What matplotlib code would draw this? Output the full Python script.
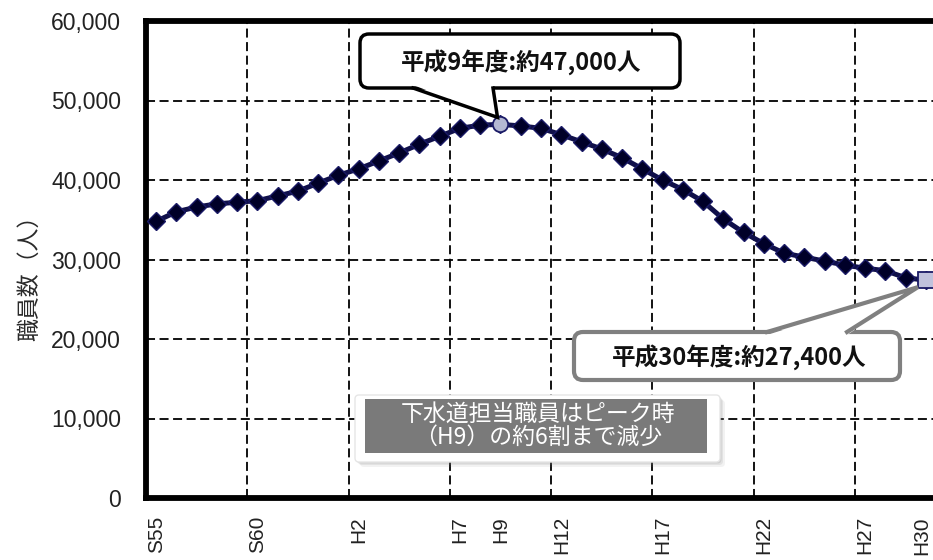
import matplotlib
matplotlib.use('Agg')
import matplotlib.pyplot as plt
import matplotlib.transforms as mtransforms
from matplotlib.patches import FancyBboxPatch, Polygon, Rectangle
from matplotlib.ticker import FuncFormatter, FixedLocator

# ---- data ----
categories = ['S55', 'S56', 'S57', 'S58', 'S59', 'S60', 'S61', 'S62', 'S63'] + \
             ['H%d' % i for i in range(1, 31)]
staff = [34800, 36000, 36600, 37000, 37200, 37400, 38000, 38600, 39600, 40600,
         41400, 42400, 43400, 44500, 45500, 46500, 46900, 47000, 46800, 46500,
         45700, 44800, 43900, 42800, 41400, 40000, 38800, 37300, 35100, 33400,
         32000, 30800, 30300, 29800, 29300, 28900, 28600, 27700, 27400]
shown_labels = ['S55', 'S60', 'H2', 'H7', 'H9', 'H12', 'H17', 'H22', 'H27', 'H30']
grid_before = ['S60', 'H2', 'H7', 'H12', 'H17', 'H22', 'H27']
y_ticks = [0, 10000, 20000, 30000, 40000, 50000, 60000]
peak_cat = 'H9'
end_cat = 'H30'
peak_label = '平成9年度:約47,000人'
end_label = '平成30年度:約27,400人'
note_text = '下水道担当職員はピーク時\n（H9）の約6割まで減少'
y_label = '職員数（人）'

W, H = 933, 560
fig = plt.figure(figsize=(W / 100, H / 100), dpi=100)
ax = fig.add_axes([146 / W, 1 - 498 / H, 790 / W, (498 - 21) / H])

x = list(range(len(categories)))
ax.plot(x, staff, color='#10104a', lw=3.6, marker='D', markersize=9.5,
        markerfacecolor='#000028', markeredgecolor='#1a1a66', zorder=3)
ip = categories.index(peak_cat)
ie = categories.index(end_cat)
ax.plot([ip], [staff[ip]], marker='o', markersize=11, markerfacecolor='#b4b8d2',
        markeredgecolor='#1a1a66', markeredgewidth=1.3, linestyle='none', zorder=4)
ax.plot([ie], [staff[ie]], marker='s', markersize=12, markerfacecolor='#c0c2dc',
        markeredgecolor='#1a1a66', markeredgewidth=1.3, linestyle='none', zorder=4,
        clip_on=False)

ax.set_xlim(-0.5, len(categories) - 0.5)
ax.set_ylim(0, 60000)

ax.xaxis.set_major_locator(FixedLocator([categories.index(c) for c in shown_labels]))
ax.set_xticklabels(shown_labels, rotation=90, fontsize=15, family=['Liberation Sans'],
                   color='#222222')
ax.xaxis.set_minor_locator(FixedLocator([categories.index(c) - 0.5 for c in grid_before]))
ax.tick_params(axis='x', which='both', length=0, pad=13)
# keep the last (edge) label inside the picture
last = ax.get_xticklabels()[-1]
last.set_transform(last.get_transform() +
                   mtransforms.ScaledTranslation(-4 / 100, 0, fig.dpi_scale_trans))
ax.set_yticks(y_ticks)
ax.yaxis.set_major_formatter(FuncFormatter(lambda v, p: '{:,.0f}'.format(v)))
ax.tick_params(axis='y', length=0, pad=18, labelsize=16.5, labelcolor='#222222')
for lab in ax.get_yticklabels():
    lab.set_family('Liberation Sans')

gkw = dict(color='black', lw=1.3, linestyle=(0, (5, 2.5)))
ax.grid(True, axis='y', which='major', **gkw)
ax.grid(True, axis='x', which='minor', **gkw)
ax.grid(False, axis='x', which='major')
ax.set_axisbelow(True)

for s in ['left', 'bottom', 'top', 'right']:
    ax.spines[s].set_linewidth(4.2)
    ax.spines[s].set_color('black')

fig.text(30 / W, 1 - 272 / H, y_label, rotation=90, ha='center', va='center',
         fontsize=16.5, family=['Noto Sans CJK JP'], color='#2a2a2a')

# ---- overlay in pixel coordinates ----
ov = fig.add_axes([0, 0, 1, 1], zorder=10)
ov.set_xlim(0, W)
ov.set_ylim(H, 0)
ov.axis('off')
ov.patch.set_alpha(0)


def to_px(xv, yv):
    dx, dy = ax.transData.transform((xv, yv))
    return dx, H - dy


# callout 1 (peak)
cx, cy = to_px(ip, staff[ip])
tip1 = (cx - 3, cy - 7)
ov.add_patch(FancyBboxPatch((360, 34), 320, 54, boxstyle='round,pad=0,rounding_size=9',
                            fc='white', ec='black', lw=2.5, zorder=5))
ov.add_patch(Polygon([(413, 85), tip1, (493, 85)], closed=True, fc='white', ec='none', zorder=6))
ov.plot([413, tip1[0], 493], [88, tip1[1], 88], color='black', lw=2.5, zorder=7,
        solid_joinstyle='miter')
ov.text(521, 62, peak_label, ha='center', va='center', fontsize=17, fontweight='bold',
        family=['Noto Sans CJK JP'], color='#111111', zorder=8)

# callout 2 (end)
ex, ey = to_px(ie, staff[ie])
tip2 = (ex - 8, ey + 7)
ov.add_patch(FancyBboxPatch((574, 332), 326, 48, boxstyle='round,pad=0,rounding_size=9',
                            fc='white', ec='#808080', lw=3, zorder=5))
ov.add_patch(Polygon([(767, 335), tip2, (847, 335)], closed=True, fc='white', ec='none', zorder=6))
ov.plot([767, tip2[0], 847], [332, tip2[1], 332], color='#808080', lw=3, zorder=7,
        solid_joinstyle='miter')
ov.text(739, 357, end_label, ha='center', va='center', fontsize=17, fontweight='bold',
        family=['Noto Sans CJK JP'], color='#111111', zorder=8)

# note box
for off, a in [(5, 0.10), (3, 0.15), (1.5, 0.2)]:
    ov.add_patch(FancyBboxPatch((355 + off, 395 + off), 365, 67,
                                boxstyle='round,pad=0,rounding_size=4',
                                fc='#888888', ec='none', alpha=a, zorder=4))
ov.add_patch(FancyBboxPatch((355, 395), 365, 67, boxstyle='round,pad=0,rounding_size=4',
                            fc='white', ec='#e6e6e6', lw=1, zorder=5))
ov.add_patch(Rectangle((365, 399), 342, 54, fc='#7a7a7a', ec='none', zorder=6))
ov.text(538, 426, note_text, ha='center', va='center', fontsize=16.5, linespacing=1.0,
        family=['Noto Sans CJK JP'], color='white', zorder=8)

fig.savefig('out.png', dpi=100)
